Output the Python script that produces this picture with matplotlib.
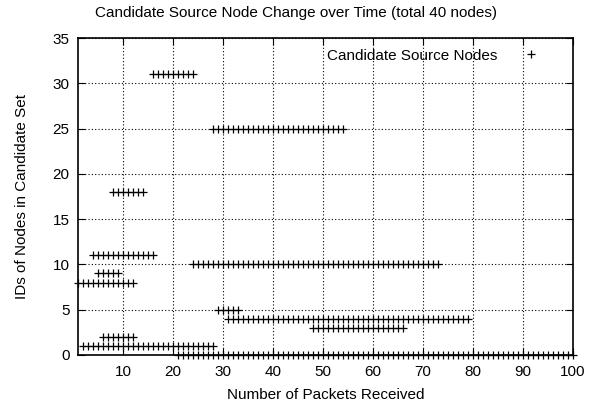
import matplotlib
matplotlib.use("Agg")
import matplotlib.pyplot as plt
import numpy as np

plt.rcParams['font.family'] = ['Liberation Sans', 'DejaVu Sans']

# Node ID rows and the packet ranges (inclusive) in which each is a candidate
node_ids = [31, 25, 18, 11, 10, 9, 8, 5, 4, 3, 2, 1, 0]
start_pkt = [16, 28, 8, 4, 24, 5, 1, 29, 31, 48, 6, 2, 21]
end_pkt = [24, 54, 14, 16, 73, 9, 12, 33, 79, 66, 12, 28, 100]

xticks = [10, 20, 30, 40, 50, 60, 70, 80, 90, 100]
yticks = [0, 5, 10, 15, 20, 25, 30, 35]

xs, ys = [], []
for nid, s, e in zip(node_ids, start_pkt, end_pkt):
    for p in range(s, e + 1):
        xs.append(p)
        ys.append(nid)

fig = plt.figure(figsize=(5.92, 4.09), dpi=100)
ax = fig.add_axes([78/592, 1 - 355/409, (573-78)/592, (355-38)/409])

ax.plot(xs, ys, linestyle='none', marker='+', color='black',
        markersize=6, markeredgewidth=0.9, clip_on=False,
        label='Candidate Source Nodes')

ax.set_xlim(1, 100)
ax.set_ylim(0, 35)
ax.set_xticks(xticks)
ax.set_yticks(yticks)
ax.tick_params(axis='x', pad=7)
ax.tick_params(axis='y', pad=6)
ax.tick_params(direction='in', top=True, right=True, labelsize=11, length=5, width=0.8)
ax.grid(True, linestyle=(0, (1, 2)), color='black', linewidth=0.8)
for sp in ax.spines.values():
    sp.set_linewidth(1.2)

ax.set_xlabel('Number of Packets Received', fontsize=11, labelpad=7)
ax.set_ylabel('IDs of Nodes in Candidate Set', fontsize=11, labelpad=17)
fig.text(0.5, 1 - 13/409, 'Candidate Source Node Change over Time (total 40 nodes)',
         ha='center', va='center', fontsize=11)

leg = ax.legend(loc='upper right', frameon=False, markerfirst=False, fontsize=11,
                handlelength=2.8, handletextpad=0.8, borderaxespad=0.3,
                bbox_to_anchor=(1 - 10/495, 1))

fig.savefig('out.png', dpi=100)
